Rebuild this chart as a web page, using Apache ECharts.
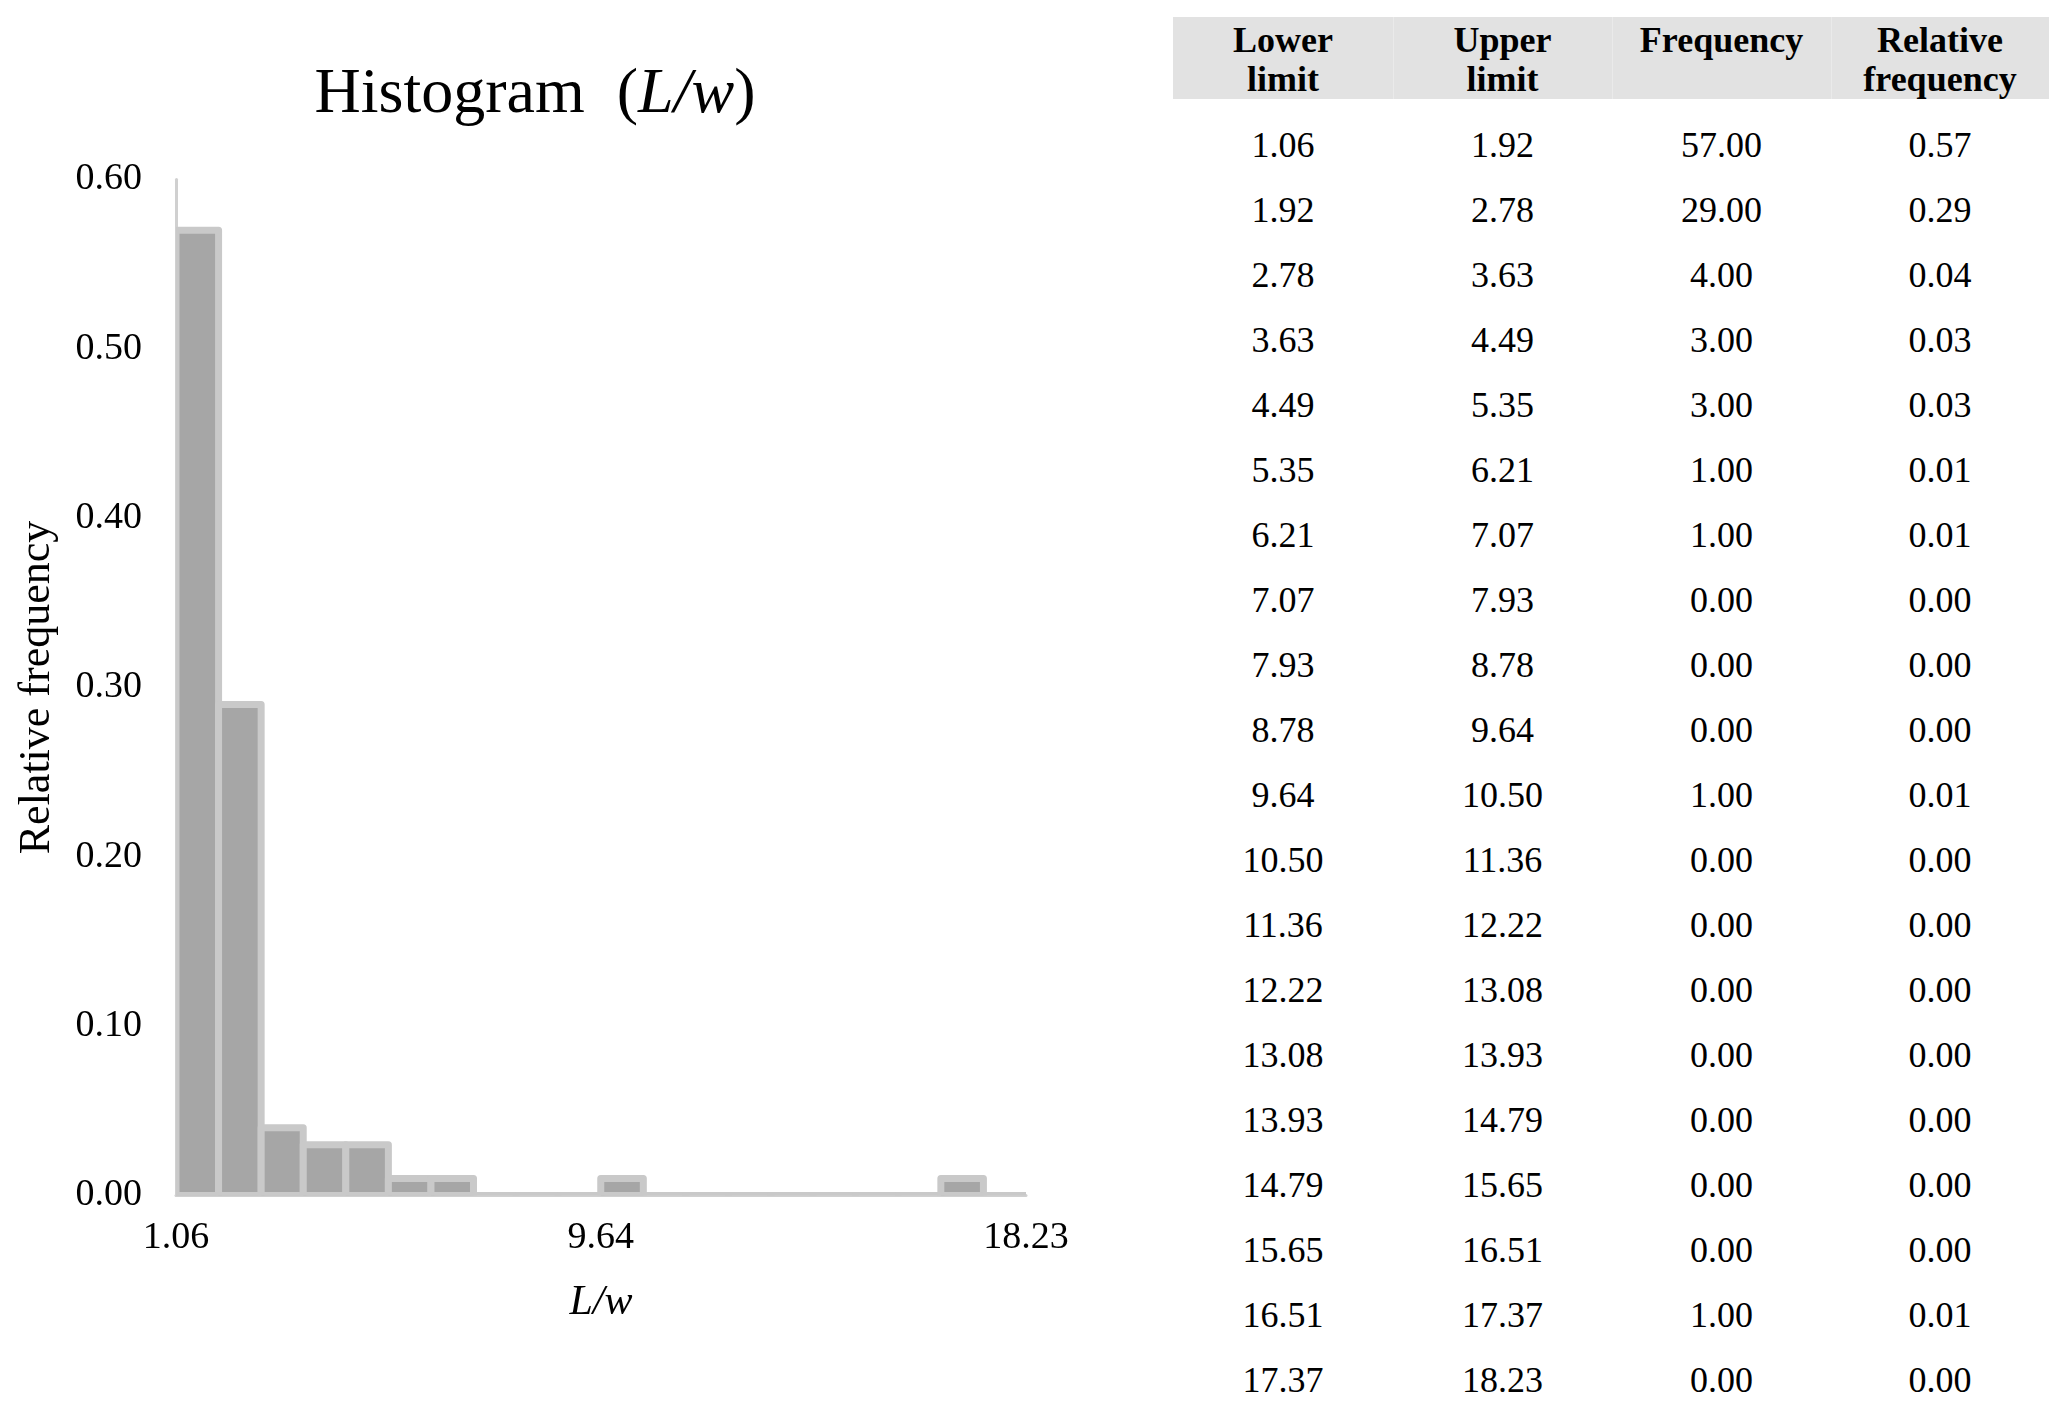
<!DOCTYPE html>
<html>
<head>
<meta charset="utf-8">
<script src="https://cdn.jsdelivr.net/npm/echarts@6/dist/echarts.min.js"></script>
<style>
  html, body { margin: 0; padding: 0; background: #ffffff; width: 2067px; height: 1410px; overflow: hidden; }
  #chart { position: absolute; left: 0; top: 0; width: 1070px; height: 1410px; }
  #table { position: absolute; left: 1173px; top: 17px; width: 876px; font-family: 'Liberation Serif', 'Times New Roman', serif; color: #000; }
  .hdr { position: absolute; left: 0; top: 0; width: 876px; height: 82px; background: #e2e2e2; }
  .hcell { position: absolute; top: 0; height: 82px; box-sizing: border-box; padding-top: 4px; text-align: center; font-weight: bold; font-size: 36px; line-height: 39px; }
  .hdiv { position: absolute; top: 0; width: 1px; height: 82px; background: #eaeaea; }
  .cell { position: absolute; height: 65px; line-height: 65px; text-align: center; font-size: 36px; }
</style>
</head>
<body>
<div id="chart"></div>
<div id="table"></div>
<script>
// ---- data ----
const lowerLimits = [1.06, 1.92, 2.78, 3.63, 4.49, 5.35, 6.21, 7.07, 7.93, 8.78, 9.64, 10.50, 11.36, 12.22, 13.08, 13.93, 14.79, 15.65, 16.51, 17.37];
const upperLimits = [1.92, 2.78, 3.63, 4.49, 5.35, 6.21, 7.07, 7.93, 8.78, 9.64, 10.50, 11.36, 12.22, 13.08, 13.93, 14.79, 15.65, 16.51, 17.37, 18.23];
const frequencies = [57, 29, 4, 3, 3, 1, 1, 0, 0, 0, 1, 0, 0, 0, 0, 0, 0, 0, 1, 0];
const relFrequencies = [0.57, 0.29, 0.04, 0.03, 0.03, 0.01, 0.01, 0.00, 0.00, 0.00, 0.01, 0.00, 0.00, 0.00, 0.00, 0.00, 0.00, 0.00, 0.01, 0.00];
const xTickLabels = [1.06, 9.64, 18.23];
const yTicks = [0, 0.1, 0.2, 0.3, 0.4, 0.5, 0.6];
const headers = [['Lower', 'limit'], ['Upper', 'limit'], ['Frequency'], ['Relative', 'frequency']];

const FONT = "'Liberation Serif', 'Times New Roman', serif";

// ---- chart ----
const chart = echarts.init(document.getElementById('chart'), null, { renderer: 'canvas' });
const binData = lowerLimits.map((lo, i) => [lo, upperLimits[i], relFrequencies[i]]);

chart.setOption({
  backgroundColor: '#ffffff',
  animation: false,
  title: {
    text: '{n|Histogram  (}{i|L/w}{n|)}',
    left: 'center',
    top: 58,
    textStyle: {
      fontWeight: 'normal',
      rich: {
        n: { fontFamily: FONT, fontSize: 64, fontWeight: 'normal', color: '#000' },
        i: { fontFamily: FONT, fontSize: 64, fontWeight: 'normal', fontStyle: 'italic', color: '#000' }
      }
    }
  },
  grid: { left: 176, top: 179.5, width: 850, height: 1016, outerBoundsMode: 'none', containLabel: false },
  xAxis: {
    type: 'value',
    min: lowerLimits[0],
    max: upperLimits[upperLimits.length - 1],
    name: 'L/w',
    nameLocation: 'middle',
    nameGap: 86,
    nameTextStyle: { fontFamily: FONT, fontSize: 42, fontStyle: 'italic', color: '#000' },
    axisLine: { show: true, onZero: false, lineStyle: { color: '#d0d0d0', width: 3 } },
    axisTick: { show: false },
    splitLine: { show: false },
    axisLabel: {
      customValues: xTickLabels,
      margin: 24,
      fontFamily: FONT, fontSize: 38, color: '#000',
      formatter: v => Number(v).toFixed(2)
    }
  },
  yAxis: {
    type: 'value',
    min: yTicks[0],
    max: yTicks[yTicks.length - 1],
    interval: 0.1,
    name: 'Relative frequency',
    nameLocation: 'middle',
    nameGap: 117,
    nameRotate: 90,
    nameTextStyle: { fontFamily: FONT, fontSize: 44, color: '#000' },
    axisLine: { show: true, lineStyle: { color: '#d0d0d0', width: 3 } },
    axisTick: { show: false },
    splitLine: { show: false },
    axisLabel: {
      margin: 34,
      fontFamily: FONT, fontSize: 38, color: '#000',
      formatter: v => Number(v).toFixed(2)
    }
  },
  series: [{
    type: 'custom',
    clip: true,
    data: binData,
    encode: { x: [0, 1], y: 2 },
    renderItem: function (params, api) {
      const p0 = api.coord([api.value(0), 0]);
      const p1 = api.coord([api.value(1), api.value(2)]);
      return {
        type: 'rect',
        shape: { x: p0[0], y: p1[1], width: p1[0] - p0[0], height: p0[1] - p1[1] },
        style: { fill: '#a6a6a6', stroke: '#c9c9c9', lineWidth: 7, lineJoin: 'round' }
      };
    }
  }]
});

// ---- table ----
const table = document.getElementById('table');
const colLefts = [0, 220, 439, 658];
const colWidths = [220, 219, 219, 218];
let html = '<div class="hdr"></div>';
for (let c = 1; c < 4; c++) html += '<div class="hdiv" style="left:' + colLefts[c] + 'px"></div>';
headers.forEach((h, c) => {
  html += '<div class="hcell" style="left:' + colLefts[c] + 'px;width:' + colWidths[c] + 'px">' + h.join('<br>') + '</div>';
});
const rowTop0 = 145 - 17 - 32.5;
const columns = [lowerLimits, upperLimits, frequencies, relFrequencies];
for (let r = 0; r < lowerLimits.length; r++) {
  const top = rowTop0 + r * 65;
  columns.forEach((col, c) => {
    html += '<div class="cell" style="left:' + colLefts[c] + 'px;width:' + colWidths[c] + 'px;top:' + top + 'px">' + col[r].toFixed(2) + '</div>';
  });
}
table.innerHTML = html;
</script>
</body>
</html>
